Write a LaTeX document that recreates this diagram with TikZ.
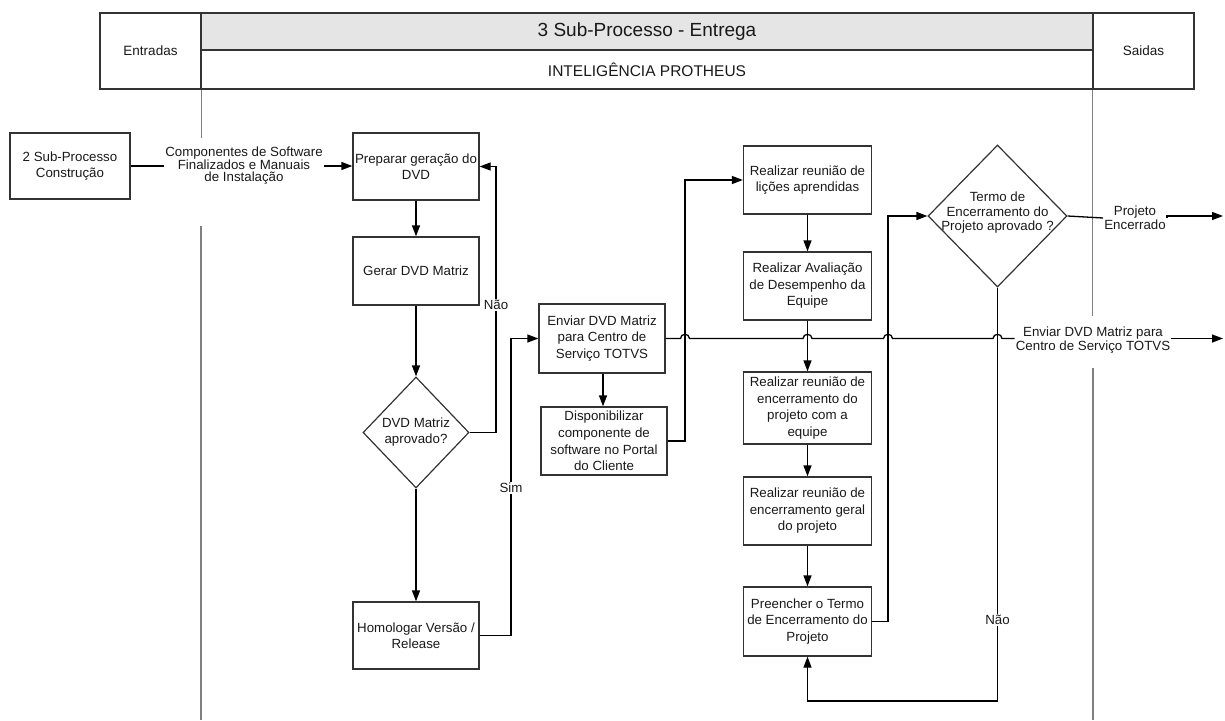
\documentclass[tikz,border=0pt]{standalone}
\usepackage{fontspec}
\setmainfont{Liberation Sans}
\usetikzlibrary{arrows.meta,shapes.geometric}
\begin{document}
\begin{tikzpicture}[x=1pt,y=-1pt,
  box/.style={draw=black!80,line width=1.3pt,rectangle,align=center,inner sep=0pt,
    font=\fontsize{13.3}{16.5}\selectfont,text=black!90},
  dia/.style={draw=black!80,line width=1.2pt,diamond,inner sep=0pt,align=center,
    font=\fontsize{13.3}{16}\selectfont,text=black!90},
  lbl/.style={align=center,font=\fontsize{13.3}{14}\selectfont,text=black!90,inner sep=1pt},
  cut/.style={lbl,fill=white,inner sep=1.5pt},
  conn/.style={line width=1.3pt,black},
  arr/.style={conn,-{Triangle[length=11pt,width=8pt]}},
  lane/.style={line width=1.2pt,black!50},
  hdr/.style={draw=black!80,line width=1.5pt,inner sep=0pt,text=black!90}]
\useasboundingbox (0,0) rectangle (1225,720);

% header
\node[hdr,minimum width=101pt,minimum height=76pt,font=\fontsize{13.5}{16}\selectfont] (entr) at (150.5,51) {Entradas};
\node[hdr,minimum width=101pt,minimum height=76pt,font=\fontsize{13.5}{16}\selectfont] (said) at (1143.5,51) {Saidas};
\node[hdr,fill=black!10,minimum width=892pt,minimum height=37pt,font=\fontsize{19}{22}\selectfont] (title) at (647,31.5) {3 Sub-Processo - Entrega};
\node[hdr,minimum width=892pt,minimum height=39pt,font=\fontsize{15.5}{18}\selectfont] (sub) at (647,69.5) {INTELIGÊNCIA PROTHEUS};

% lanes
\draw[lane] (entr.south east) -- ++(0,48);
\draw[lane] (201,226) -- (201,720);
\draw[lane] (said.south west) -- ++(0,226);
\draw[lane] (1093,368) -- (1093,720);

% nodes
\node[box,minimum width=120pt,minimum height=66pt] (sub2) at (70,166) {2 Sub-Processo\\Construção};
\node[lbl,font=\fontsize{13.3}{12.5}\selectfont] (comp) at (244,166) {Componentes de Software\\Finalizados e Manuais\\de Instalação};
\node[box,minimum width=126pt,minimum height=67pt] (prep) at (416,166.5) {Preparar geração do\\DVD};
\node[box,minimum width=126pt,minimum height=68pt] (gerar) at (416,271) {Gerar DVD Matriz};
\node[dia,minimum width=106pt,minimum height=111pt] (dvdq) at (416,432.5) {DVD Matriz\\aprovado?};
\node[box,minimum width=126pt,minimum height=67pt] (homol) at (416,635.5) {Homologar Versão /\\Release};
\node[box,minimum width=126pt,minimum height=69pt] (enviar) at (602,338.5) {Enviar DVD Matriz\\para Centro de\\Serviço TOTVS};
\node[box,minimum width=126pt,minimum height=68pt,font=\fontsize{13.3}{16.8}\selectfont] (disp) at (604,441) {Disponibilizar\\componente de\\software no Portal\\do Cliente};
\node[box,minimum width=128pt,minimum height=68pt] (licoes) at (807.5,180) {Realizar reunião de\\lições aprendidas};
\node[box,minimum width=128pt,minimum height=68pt] (aval) at (807.5,286) {Realizar Avaliação\\de Desempenho da\\Equipe};
\node[box,minimum width=128pt,minimum height=72pt] (enceq) at (807.5,408) {Realizar reunião de\\encerramento do\\projeto com a\\equipe};
\node[box,minimum width=128pt,minimum height=68pt] (geral) at (807.5,511) {Realizar reunião de\\encerramento geral\\do projeto};
\node[box,minimum width=128pt,minimum height=69pt] (preen) at (807.5,621.5) {Preencher o Termo\\de Encerramento do\\Projeto};
\node[dia,minimum width=139pt,minimum height=142pt] (termo) at (997.5,216) {};
\node[lbl,font=\fontsize{13.3}{14.5}\selectfont] (termotxt) at (997.5,213) {Termo de\\Encerramento do\\Projeto aprovado ?};
\node[lbl] (pe) at (1135,218) {Projeto\\Encerrado};
\node[lbl] (env2) at (1093,340) {Enviar DVD Matriz para\\Centro de Serviço TOTVS};

% helper coordinates
\coordinate (c1) at (496,166.5);
\coordinate (c2) at (511,338.5);
\coordinate (c3) at (685,180);
\coordinate (c4) at (888,216);
\coordinate (c5) at (997.5,701);
\coordinate (c6) at (1223,216);
\coordinate (c7) at (1223,338.5);

% connectors
\draw[conn] (sub2.east) -- (comp.west);
\draw[arr] (comp.east) -- (comp.east -| prep.west);
\draw[arr] (prep.south) -- (gerar.north);
\draw[arr] (gerar.south) -- (dvdq.north);
\draw[arr] (dvdq.east) -| (c1) -- (prep.east);
\draw[arr] (dvdq.south) -- (homol.north);
\draw[arr] (homol.east) -| (c2) -- (enviar.west);
\draw[arr] (enviar.south -| 603,0) -- (disp.north -| 603,0);
\draw[arr] (disp.east) -| (c3) -- (licoes.west);
\draw[arr] (licoes.south) -- (aval.north);
\draw[arr] (aval.south) -- (enceq.north);
\draw[arr] (enceq.south) -- (geral.north);
\draw[arr] (geral.south) -- (preen.north);
\draw[arr] (preen.east) -| (c4) -- (termo.west);
\draw[arr] (termo.south) -- (c5) -| (preen.south);
\draw[conn] (termo.east) -- (pe.west);
\draw[arr] (pe.east) -- (pe.east |- c6) -- (c6);
% line with hops
\draw[conn] (enviar.east)
  -- (680.5,338.5) .. controls (680.5,333) and (689.5,333) .. (689.5,338.5)
  -- (803,338.5) .. controls (803,333) and (812,333) .. (812,338.5)
  -- (883.5,338.5) .. controls (883.5,333) and (892.5,333) .. (892.5,338.5)
  -- (993,338.5) .. controls (993,333) and (1002,333) .. (1002,338.5)
  -- (env2.west |- c7);
\draw[arr] (env2.east |- c7) -- (c7);

% branch labels
\node[cut] (nao1) at (496,305) {Não};
\node[cut] (sim) at (511,488) {Sim};
\node[cut] (nao2) at (997.5,620) {Não};
\end{tikzpicture}
\end{document}
